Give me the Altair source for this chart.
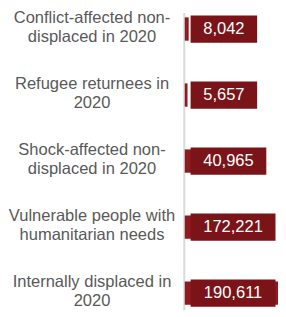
import altair as alt
import pandas as pd

categories = [
    "Conflict-affected non-|displaced in 2020",
    "Refugee returnees in|2020",
    "Shock-affected non-|displaced in 2020",
    "Vulnerable people with|humanitarian needs",
    "Internally displaced in|2020",
]
values = [8042, 5657, 40965, 172221, 190611]

df = pd.DataFrame({"cat": categories, "value": values})

FONT = "Liberation Sans"
PLOT_W = 96
PLOT_H = 306

yenc = alt.Y(
    "cat:N",
    sort=None,
    title=None,
    scale=alt.Scale(paddingInner=0.6, paddingOuter=0.051),
    axis=alt.Axis(
        domain=True,
        domainColor="#d9d9d9",
        domainWidth=2,
        ticks=False,
        tickSize=0,
        grid=False,
        labelAlign="center",
        labelBaseline="middle",
        labelPadding=95,
        labelFontSize=17,
        labelColor="#595959",
        labelFont=FONT,
        labelLineHeight=19.5,
        labelExpr="split(datum.label, '|')",
        labelLimit=0,
        labelOverlap=False,
        offset=1,
        labelOffset=-11,
    ),
)

base = alt.Chart(df)

bars = base.mark_bar(color="#8e1b20", height=24).encode(
    x=alt.X("value:Q", scale=alt.Scale(domain=[0, max(values)], nice=False), axis=None),
    y=yenc,
)

px = alt.Scale(domain=[0, PLOT_W], nice=False, zero=True)

lab = (
    base.transform_calculate(lbl="format(datum.value, ',')")
    .transform_calculate(
        boxw="length(datum.lbl) * 9.45 - 4.73 * (length(datum.lbl) - length(replace(datum.lbl, ',', ''))) + 26"
    )
    .transform_calculate(b0="6", b1="6 + datum.boxw", bc="6 + datum.boxw / 2")
)

boxes = lab.mark_bar(color="#7b1418", height=28).encode(
    x=alt.X("b0:Q", scale=px, axis=None),
    x2="b1:Q",
    y=yenc,
)

texts = lab.mark_text(
    color="white", fontSize=17, font=FONT, align="center", baseline="middle"
).encode(
    x=alt.X("bc:Q", scale=px, axis=None),
    y=yenc,
    text="lbl:N",
)

chart = (
    alt.layer(bars, boxes, texts)
    .resolve_scale(x="independent")
    .properties(
        width=PLOT_W,
        height=PLOT_H,
        autosize="none",
        padding={"left": 182, "top": 0, "right": 0, "bottom": 4},
    )
    .configure_view(stroke=None)
)

chart.save("out.html", embed_options={"renderer": "svg", "actions": False})
